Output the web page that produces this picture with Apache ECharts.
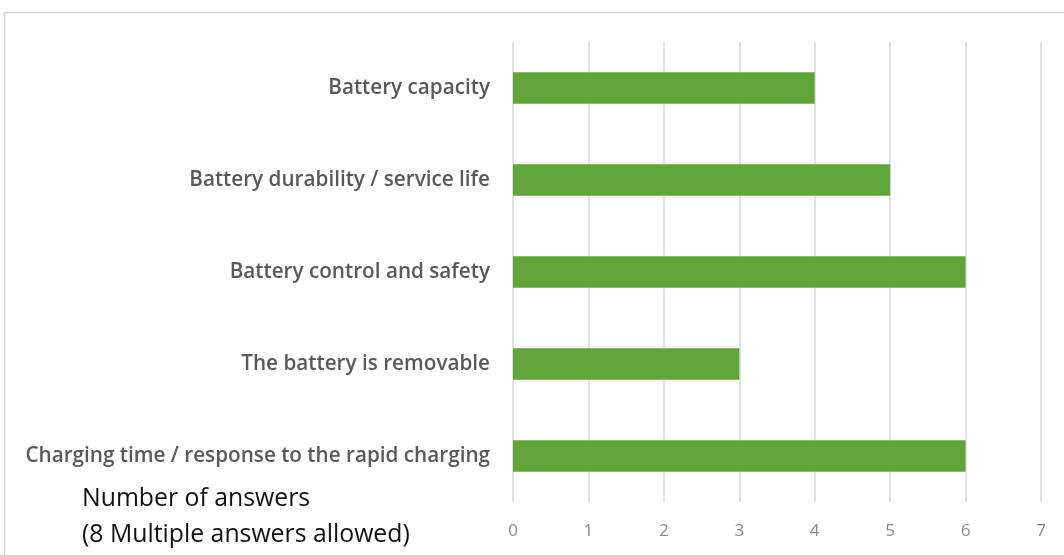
<!DOCTYPE html>
<html>
<head>
<meta charset="utf-8">
<script src="https://cdn.jsdelivr.net/npm/echarts@6/dist/echarts.min.js"></script>
<style>
  html, body { margin: 0; padding: 0; background: #fff; }
  #chart { width: 1064px; height: 555px; }
</style>
</head>
<body>
<div id="chart"></div>
<script>
// Battery features ranked by respondents (horizontal bars, top to bottom)
const categories = [
  'Battery capacity',
  'Battery durability / service life',
  'Battery control and safety',
  'The battery is removable',
  'Charging time / response to the rapid charging'
];
const answerCounts = [4, 5, 6, 3, 6];
const xTicks = [0, 1, 2, 3, 4, 5, 6, 7];
const noteLines = ['Number of answers', '(8 Multiple answers allowed)'];

const chart = echarts.init(document.getElementById('chart'), null, { renderer: 'canvas' });

chart.setOption({
  animation: false,
  backgroundColor: '#ffffff',
  graphic: [
    {
      type: 'rect',
      shape: { x: 4.5, y: 12.5, width: 1100, height: 600 },
      style: { fill: 'none', stroke: '#d4d4d4', lineWidth: 1.5 },
      silent: true
    },
    {
      type: 'text',
      left: 82,
      top: 481,
      style: {
        text: noteLines.join('\n'),
        fontFamily: 'Open Sans',
        fontSize: 24.8,
        lineHeight: 36,
        fill: '#111111'
      }
    }
  ],
  grid: { left: 513, right: 23, top: 42, bottom: 53, containLabel: false },
  xAxis: {
    type: 'value',
    min: xTicks[0],
    max: xTicks[xTicks.length - 1],
    interval: 1,
    axisLine: { show: false },
    axisTick: { show: false },
    axisLabel: {
      color: '#8a8a8a',
      fontFamily: 'Open Sans',
      fontSize: 17,
      margin: 21
    },
    splitLine: { show: true, lineStyle: { color: '#d9d9d9', width: 1.5 } }
  },
  yAxis: {
    type: 'category',
    inverse: true,
    data: categories,
    axisLine: { show: false },
    axisTick: { show: false },
    axisLabel: {
      color: '#595959',
      fontFamily: 'Open Sans',
      fontWeight: 600,
      fontSize: 20.7,
      margin: 23
    }
  },
  series: [{
    type: 'bar',
    data: answerCounts,
    barCategoryGap: '66%',
    itemStyle: { color: '#61a63a' }
  }]
});
</script>
</body>
</html>
